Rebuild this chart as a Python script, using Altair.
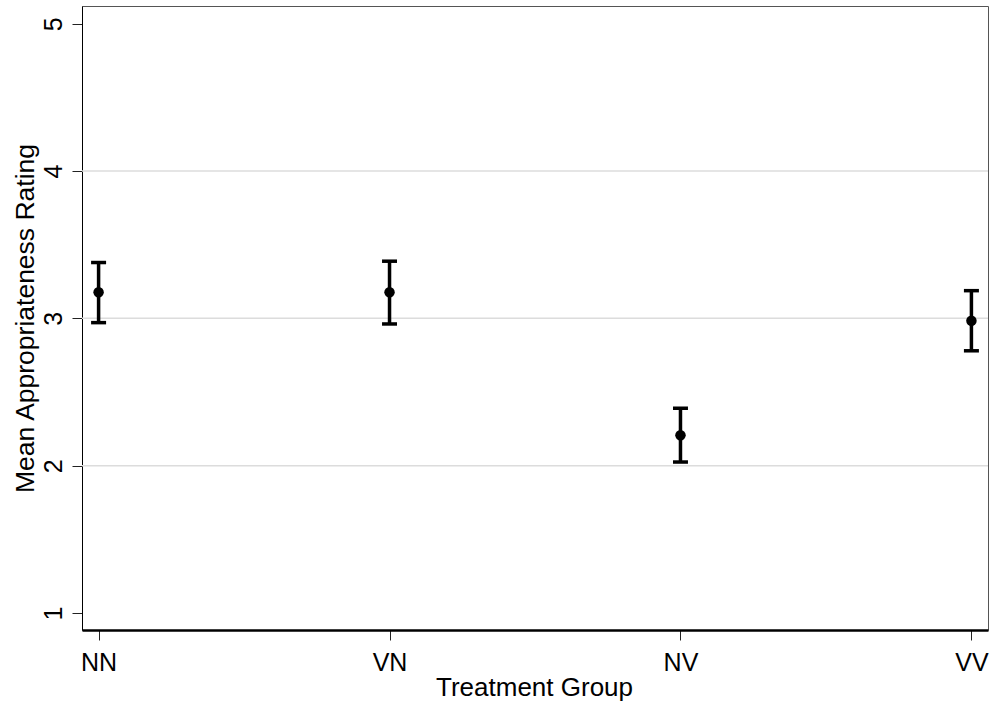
import altair as alt
import pandas as pd

groups = ["NN", "VN", "NV", "VV"]
means = [3.177, 3.177, 2.207, 2.984]
lower = [2.971, 2.962, 2.025, 2.780]
upper = [3.379, 3.388, 2.390, 3.188]
y_ticks = [1, 2, 3, 4, 5]
grid_values = [2, 3, 4]

df = pd.DataFrame({"group": groups, "mean": means, "lo": lower, "hi": upper})
grid_df = pd.DataFrame({"v": grid_values})

FONT = "Liberation Sans"

xscale = alt.Scale(type="point", padding=0.057, domain=groups)
yscale = alt.Scale(domain=[0.885, 5.12], nice=False, zero=False)

x_axis = alt.Axis(
    title="Treatment Group", labelAngle=0, ticks=True, tickSize=10, tickColor="#222",
    tickWidth=1, domainColor="#000", domainWidth=2.5, labelFontSize=25,
    labelBaseline="alphabetic", labelPadding=30, labelColor="#000", labelFont=FONT,
    titleFont=FONT, titleFontSize=26, titleFontWeight="normal", titleColor="#000",
    titleBaseline="alphabetic", titleY=65, titleX=452, grid=False,
)
y_axis = alt.Axis(
    title="Mean Appropriateness Rating", values=y_ticks, format="d", tickSize=10,
    tickColor="#222", tickWidth=1, domainColor="#000", domainWidth=1, labelFontSize=25,
    labelAngle=270, labelAlign="center", labelBaseline="alphabetic", labelPadding=11,
    labelColor="#000", labelFont=FONT, titleFont=FONT, titleFontSize=26.5,
    titleFontWeight="normal", titleColor="#000", titleAngle=270,
    titleBaseline="alphabetic", titleX=-49, titleY=312, titleAlign="center", grid=False,
)

grid = alt.Chart(grid_df).mark_rule(color="#dcdcdc", strokeWidth=1.5).encode(
    y=alt.Y("v:Q", scale=yscale, axis=y_axis)
)

bars = alt.Chart(df).mark_rule(color="#000", strokeWidth=3.5, opacity=1).encode(
    x=alt.X("group:N", scale=xscale, sort=groups, axis=x_axis),
    y=alt.Y("lo:Q", scale=yscale),
    y2="hi:Q",
)
caps_lo = alt.Chart(df).mark_tick(
    color="#000", orient="horizontal", size=15, thickness=3.5, opacity=1
).encode(
    x=alt.X("group:N", scale=xscale, sort=groups),
    y=alt.Y("lo:Q", scale=yscale),
)
caps_hi = alt.Chart(df).mark_tick(
    color="#000", orient="horizontal", size=15, thickness=3.5, opacity=1
).encode(
    x=alt.X("group:N", scale=xscale, sort=groups),
    y=alt.Y("hi:Q", scale=yscale),
)
dots = alt.Chart(df).mark_point(filled=True, color="#000", size=110, opacity=1).encode(
    x=alt.X("group:N", scale=xscale, sort=groups),
    y=alt.Y("mean:Q", scale=yscale),
)

chart = alt.layer(grid, bars, caps_lo, caps_hi, dots).properties(
    width=906, height=624,
    autosize=alt.AutoSizeParams(type="none"),
    padding={"left": 82, "top": 6, "right": 8, "bottom": 76},
    background="white",
).configure_view(stroke="#555", strokeWidth=1)

chart.save("out.html", embed_options={"renderer": "svg", "actions": False})
